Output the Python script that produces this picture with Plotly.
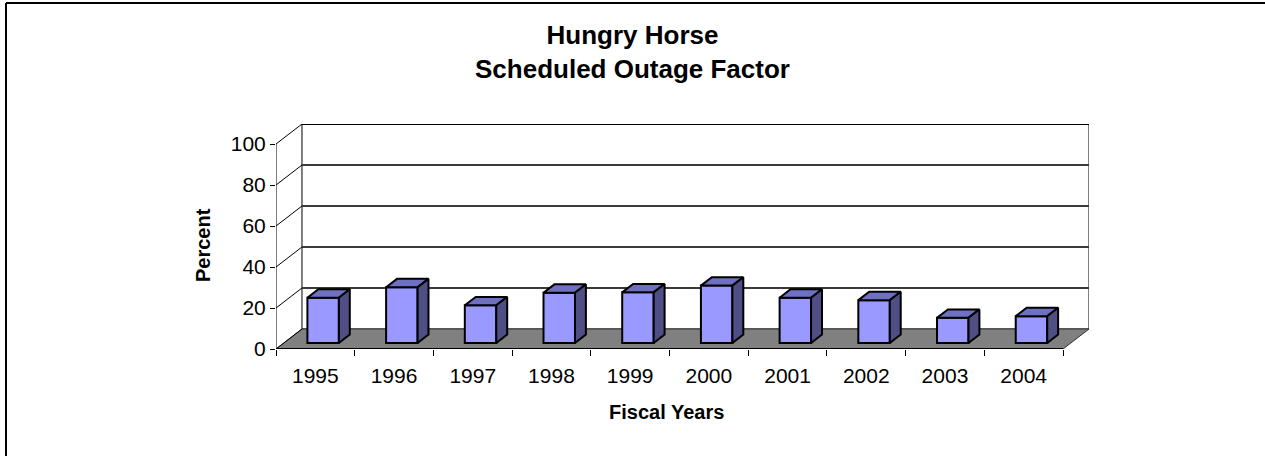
import plotly.graph_objects as go

years = ["1995", "1996", "1997", "1998", "1999", "2000", "2001", "2002", "2003", "2004"]
outage_pct = [22.1, 27.2, 18.4, 24.5, 24.7, 28.0, 22.1, 20.9, 12.3, 13.1]
y_ticks = [0, 20, 40, 60, 80, 100]

W, H = 1265, 456
FONT = "Liberation Sans, Arial, sans-serif"

# oblique 3d look (Excel style): depth offset in data units
DX, DY = 0.33, 9.76
F0, F1 = 0.30, 0.72      # bar front / back position along the depth
BW = 0.4                 # bar width (category units)
YMAX = 100

n = len(years)
xs = list(range(n))

fig = go.Figure()

# front faces as real bars, shifted into the depth
fig.add_trace(go.Bar(
    x=[i + F0 * DX for i in xs], y=outage_pct, base=F0 * DY, width=BW,
    marker=dict(color="#9999FF", line=dict(color="black", width=2)),
    hoverinfo="skip",
))

# top and side faces
tx, ty, sx, sy = [], [], [], []
ddx, ddy = (F1 - F0) * DX, (F1 - F0) * DY
for i, v in zip(xs, outage_pct):
    xl = i - BW / 2 + F0 * DX
    xr = i + BW / 2 + F0 * DX
    b = F0 * DY
    tx += [xl, xr, xr + ddx, xl + ddx, xl, None]
    ty += [v + b, v + b, v + b + ddy, v + b + ddy, v + b, None]
    sx += [xr, xr, xr + ddx, xr + ddx, xr, None]
    sy += [b, v + b, v + b + ddy, b + ddy, b, None]

fig.add_trace(go.Scatter(x=tx, y=ty, mode="lines", fill="toself", fillcolor="#7070C2",
                         line=dict(color="black", width=2), hoverinfo="skip"))
fig.add_trace(go.Scatter(x=sx, y=sy, mode="lines", fill="toself", fillcolor="#4F4F85",
                         line=dict(color="black", width=2), hoverinfo="skip"))

x0, x1 = -0.5, n - 0.5
shapes = []
# back wall
shapes.append(dict(type="rect", xref="x", yref="y", layer="below",
                   x0=x0 + DX, x1=x1 + DX, y0=DY, y1=YMAX + DY,
                   fillcolor="white", line=dict(color="black", width=1)))
shapes.append(dict(type="line", xref="x", yref="y", layer="below",
                   x0=x0 + DX, x1=x1 + DX, y0=YMAX + DY, y1=YMAX + DY,
                   line=dict(color="black", width=2)))
# floor
shapes.append(dict(type="path", xref="x", yref="y", layer="below",
                   path=f"M{x0},0 L{x1},0 L{x1 + DX},{DY} L{x0 + DX},{DY} Z",
                   fillcolor="#808080", line=dict(color="#333333", width=1)))
# gridlines on back wall and diagonals on left wall
for t in y_ticks:
    if 0 < t < YMAX:
        shapes.append(dict(type="line", xref="x", yref="y", layer="below",
                           x0=x0 + DX, x1=x1 + DX, y0=t + DY, y1=t + DY,
                           line=dict(color="#3a3a3a", width=2)))
    shapes.append(dict(type="line", xref="x", yref="y", layer="below",
                       x0=x0, x1=x0 + DX, y0=t, y1=t + DY,
                       line=dict(color="black", width=1)))
# front axis lines
shapes.append(dict(type="line", xref="x", yref="y", x0=x0, x1=x0, y0=0, y1=YMAX,
                   line=dict(color="black", width=1)))
shapes.append(dict(type="line", xref="x", yref="y", x0=x0, x1=x1, y0=0, y1=0,
                   line=dict(color="black", width=2)))
# outer chart border (only left and top edges are visible)
shapes.append(dict(type="line", xref="paper", yref="paper",
                   x0=6 / W, x1=6 / W, y0=0, y1=1 - 3 / H,
                   line=dict(color="black", width=2)))
shapes.append(dict(type="line", xref="paper", yref="paper",
                   x0=6 / W, x1=1, y0=1 - 3 / H, y1=1 - 3 / H,
                   line=dict(color="black", width=2)))

annotations = [
    dict(text="<b>Hungry Horse<br>Scheduled Outage Factor</b>", x=632.5 / W, y=1 - 52 / H,
         xref="paper", yref="paper", showarrow=False, xanchor="center", yanchor="middle",
         font=dict(family=FONT, size=26, color="black")),
    dict(text="<b>Fiscal Years</b>", x=667 / W, y=1 - 412 / H,
         xref="paper", yref="paper", showarrow=False, xanchor="center", yanchor="middle",
         font=dict(family=FONT, size=20, color="black")),
    dict(text="<b>Percent</b>", x=203 / W, y=1 - 245 / H, textangle=-90,
         xref="paper", yref="paper", showarrow=False, xanchor="center", yanchor="middle",
         font=dict(family=FONT, size=20, color="black")),
]

x_range = [x0, x1 + DX]
fig.update_layout(
    width=W, height=H,
    margin=dict(l=0, r=0, t=0, b=0),
    paper_bgcolor="white", plot_bgcolor="white",
    showlegend=False,
    font=dict(family=FONT, color="black"),
    xaxis=dict(domain=[276 / W, 1089 / W], range=x_range, tickvals=xs, ticktext=years,
               ticks="outside", ticklen=8, tickcolor="rgba(0,0,0,0)",
               showgrid=False, zeroline=False, showline=False, automargin=False,
               tickfont=dict(family=FONT, size=21, color="black")),
    xaxis2=dict(overlaying="x", side="bottom", range=x_range,
                tickvals=[x0 + k for k in range(n + 1)], showticklabels=False,
                ticks="outside", ticklen=6, tickcolor="black", automargin=False,
                showgrid=False, zeroline=False, showline=False),
    yaxis=dict(domain=[1 - 349 / H, 1 - 124 / H], range=[0, YMAX + DY],
               tickvals=y_ticks, ticks="outside", ticklen=5, tickcolor="black",
               showgrid=False, zeroline=False, showline=False, automargin=False,
               tickfont=dict(family=FONT, size=21, color="black")),
    shapes=shapes,
    annotations=annotations,
)

# dummy trace so the boundary tick axis is drawn
fig.add_trace(go.Scatter(x=[x0], y=[0], xaxis="x2", mode="markers",
                         marker=dict(opacity=0), hoverinfo="skip"))

page_css = (
    "document.documentElement.style.margin='0';"
    "document.documentElement.style.overflow='hidden';"
    "document.documentElement.style.height='456px';"
    "document.body.style.margin='0';"
    "document.body.style.overflow='hidden';"
    "document.body.style.height='456px';"
)
fig.write_html("out.html", config={"displayModeBar": False}, post_script=page_css)
